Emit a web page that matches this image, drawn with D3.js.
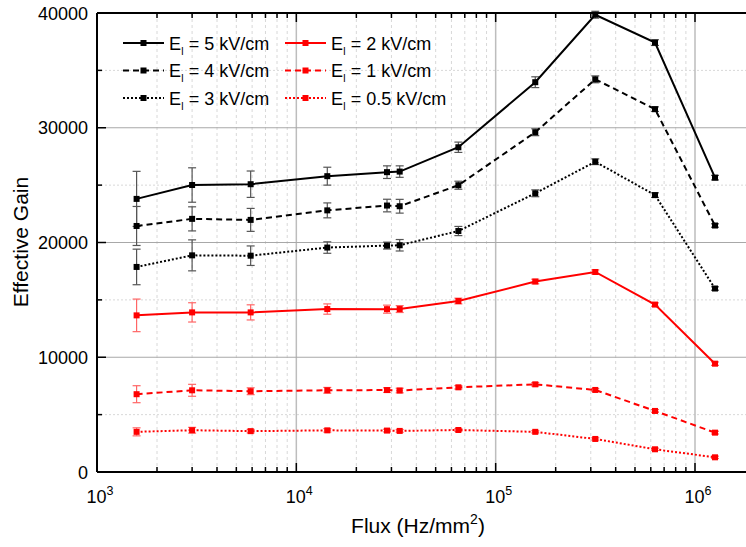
<!DOCTYPE html>
<html>
<head>
<meta charset="utf-8">
<script src="https://cdn.jsdelivr.net/npm/d3@7"></script>
<style>
  body { margin: 0; background: #fff; }
  svg { display: block; font-family: Arial, "Liberation Sans", sans-serif; }
</style>
</head>
<body>
<div id="chart"></div>
<script>
// flux (Hz/mm^2)
const flux = [1.58e3, 3.0e3, 5.9e3, 1.43e4, 2.85e4, 3.3e4, 6.5e4, 1.58e5, 3.16e5, 6.3e5, 1.26e6];

// effective gain per induction field
const gain5 = [23800, 25010, 25080, 25780, 26130, 26180, 28300, 33970, 39850, 37420, 25650];
const err5 = [2400, 1500, 1150, 780, 550, 500, 450, 470, 300, 250, 200];
const gain4 = [21440, 22060, 21970, 22800, 23220, 23160, 24990, 29610, 34220, 31620, 21480];
const err4 = [1700, 1050, 1000, 650, 550, 600, 350, 300, 300, 200, 150];
const gain3 = [17870, 18880, 18850, 19560, 19730, 19760, 21000, 24290, 27040, 24130, 15990];
const err3 = [1550, 1350, 850, 500, 300, 500, 400, 300, 250, 200, 150];
const gain2 = [13650, 13910, 13910, 14200, 14190, 14200, 14900, 16600, 17430, 14590, 9440];
const err2 = [1420, 840, 660, 450, 350, 300, 250, 200, 180, 150, 150];
const gain1 = [6780, 7120, 7040, 7120, 7140, 7100, 7380, 7640, 7150, 5320, 3430];
const err1 = [740, 520, 300, 250, 200, 200, 150, 150, 120, 120, 120];
const gain05 = [3500, 3640, 3560, 3630, 3610, 3580, 3660, 3500, 2880, 1980, 1280];
const err05 = [350, 250, 150, 150, 120, 120, 120, 100, 100, 100, 100];

const fieldLabels = ['5', '4', '3', '2', '1', '0.5'];
const xTickLabels = ['3', '4', '5', '6'];
const yTicks = [0, 10000, 20000, 30000, 40000];

const series = [
  { field: fieldLabels[0], gain: gain5, err: err5, color: '#000', errColor: '#555', dash: null },
  { field: fieldLabels[1], gain: gain4, err: err4, color: '#000', errColor: '#555', dash: '6,4' },
  { field: fieldLabels[2], gain: gain3, err: err3, color: '#000', errColor: '#555', dash: '2,2' },
  { field: fieldLabels[3], gain: gain2, err: err2, color: '#f00', errColor: '#f66', dash: null },
  { field: fieldLabels[4], gain: gain1, err: err1, color: '#f00', errColor: '#f66', dash: '6,4' },
  { field: fieldLabels[5], gain: gain05, err: err05, color: '#f00', errColor: '#f66', dash: '2,2' }
];

const width = 746, height = 547;
const pLeft = 97, pTop = 13, pBottom = 472, pRight = width;

const svg = d3.select('#chart').append('svg')
  .attr('width', width)
  .attr('height', height);

// scales: one decade is about 199px
const x = d3.scaleLog().domain([1e3, 1e6]).range([pLeft, 695]);
const y = d3.scaleLinear().domain([0, 40000]).range([pBottom, pTop]);

// minor grid (dashed)
const minorX = [];
for (let e = 3; e <= 6; e++) {
  for (let m = 2; m <= 9; m++) minorX.push(m * Math.pow(10, e));
}
const minorXin = minorX.filter(d => x(d) < pRight);
const minorY = [5000, 15000, 25000, 35000];

const grid = svg.append('g');
grid.selectAll(null)
  .data(minorXin)
  .join('line')
  .attr('x1', d => x(d)).attr('x2', d => x(d))
  .attr('y1', pTop).attr('y2', pBottom)
  .attr('stroke', '#d8d8d8').attr('stroke-dasharray', '3,3');
grid.selectAll(null)
  .data(minorY)
  .join('line')
  .attr('x1', pLeft).attr('x2', pRight)
  .attr('y1', d => y(d)).attr('y2', d => y(d))
  .attr('stroke', '#d8d8d8').attr('stroke-dasharray', '2,2');

// major grid (solid)
grid.selectAll(null)
  .data([1e4, 1e5, 1e6])
  .join('line')
  .attr('x1', d => x(d)).attr('x2', d => x(d))
  .attr('y1', pTop).attr('y2', pBottom)
  .attr('stroke', '#bdbdbd').attr('stroke-width', 1.5);
grid.selectAll(null)
  .data([10000, 20000, 30000])
  .join('line')
  .attr('x1', pLeft).attr('x2', pRight)
  .attr('y1', d => y(d)).attr('y2', d => y(d))
  .attr('stroke', '#a8a8a8').attr('stroke-width', 1.2);

// data
const plot = svg.append('g');
const line = d3.line()
  .x((d, i) => x(flux[i]))
  .y(d => y(d));

series.forEach(s => {
  const g = plot.append('g');
  // error bars
  const eb = g.selectAll(null)
    .data(s.gain.map((v, i) => ({ f: flux[i], v: v, e: s.err[i] })))
    .join('g');
  eb.append('line')
    .attr('x1', d => x(d.f)).attr('x2', d => x(d.f))
    .attr('y1', d => y(d.v - d.e)).attr('y2', d => y(d.v + d.e))
    .attr('stroke', s.errColor).attr('stroke-width', 1.2);
  [-1, 1].forEach(k => {
    eb.append('line')
      .attr('x1', d => x(d.f) - 4).attr('x2', d => x(d.f) + 4)
      .attr('y1', d => y(d.v + k * d.e)).attr('y2', d => y(d.v + k * d.e))
      .attr('stroke', s.errColor).attr('stroke-width', 1.2);
  });
  // line
  g.append('path')
    .datum(s.gain)
    .attr('d', line)
    .attr('fill', 'none')
    .attr('stroke', s.color)
    .attr('stroke-width', 2)
    .attr('stroke-dasharray', s.dash);
  // square markers
  g.selectAll('rect')
    .data(s.gain)
    .join('rect')
    .attr('x', (d, i) => x(flux[i]) - 3)
    .attr('y', d => y(d) - 3)
    .attr('width', 6).attr('height', 6)
    .attr('fill', s.color);
});

// axes frame
const axes = svg.append('g').attr('stroke', '#000');
axes.append('line').attr('x1', pLeft).attr('x2', pRight).attr('y1', pBottom).attr('y2', pBottom).attr('stroke-width', 2);
axes.append('line').attr('x1', pLeft).attr('x2', pRight).attr('y1', pTop).attr('y2', pTop).attr('stroke-width', 2);
axes.append('line').attr('x1', pLeft).attr('x2', pLeft).attr('y1', pTop).attr('y2', pBottom).attr('stroke-width', 2);

// x ticks (inward, bottom and top)
const xMajor = [1e3, 1e4, 1e5, 1e6];
[[pBottom, -1], [pTop, 1]].forEach(([yy, dir]) => {
  axes.append('g').selectAll('line').data(minorXin).join('line')
    .attr('x1', d => x(d)).attr('x2', d => x(d))
    .attr('y1', yy).attr('y2', yy + dir * 5).attr('stroke-width', 1.5);
  axes.append('g').selectAll('line').data(xMajor).join('line')
    .attr('x1', d => x(d)).attr('x2', d => x(d))
    .attr('y1', yy).attr('y2', yy + dir * 9).attr('stroke-width', 1.5);
});
// y ticks (inward)
axes.append('g').selectAll('line').data(minorY).join('line')
  .attr('x1', pLeft).attr('x2', pLeft + 5)
  .attr('y1', d => y(d)).attr('y2', d => y(d)).attr('stroke-width', 1.5);
axes.append('g').selectAll('line').data(yTicks).join('line')
  .attr('x1', pLeft).attr('x2', pLeft + 9)
  .attr('y1', d => y(d)).attr('y2', d => y(d)).attr('stroke-width', 1.5);

// tick labels
svg.append('g').selectAll('text')
  .data(yTicks)
  .join('text')
  .attr('x', pLeft - 9)
  .attr('y', d => y(d) + 6.5)
  .attr('text-anchor', 'end')
  .attr('font-size', 18)
  .text(d => d);

const xl = svg.append('g').selectAll('text')
  .data(xTickLabels)
  .join('text')
  .attr('x', (d, i) => x(xMajor[i]) + 3)
  .attr('y', 503)
  .attr('text-anchor', 'middle')
  .attr('font-size', 18);
xl.append('tspan').text('10');
xl.append('tspan').attr('dy', -8).attr('font-size', 12.5).text(d => d);

// axis titles
svg.append('text')
  .attr('transform', `translate(28,242) rotate(-90)`)
  .attr('text-anchor', 'middle')
  .attr('font-size', 21)
  .text('Effective Gain');

const xt = svg.append('text')
  .attr('x', 418)
  .attr('y', 533)
  .attr('text-anchor', 'middle')
  .attr('font-size', 21);
xt.append('tspan').text('Flux (Hz/mm');
xt.append('tspan').attr('dy', -9).attr('font-size', 14).text('2');
xt.append('tspan').attr('dy', 9).text(')');

// legend
const legend = svg.append('g');
series.forEach((s, i) => {
  const col = Math.floor(i / 3), row = i % 3;
  const lx = col === 0 ? 123 : 285;
  const ly = 43 + row * 27.5;
  const g = legend.append('g');
  g.append('line')
    .attr('x1', lx).attr('x2', lx + 41)
    .attr('y1', ly).attr('y2', ly)
    .attr('stroke', s.color).attr('stroke-width', 2)
    .attr('stroke-dasharray', s.dash);
  g.append('rect')
    .attr('x', lx + 17.5).attr('y', ly - 3)
    .attr('width', 6).attr('height', 6)
    .attr('fill', s.color);
  const t = g.append('text')
    .attr('x', lx + 46)
    .attr('y', ly + 6.5)
    .attr('font-size', 18);
  t.append('tspan').text('E');
  t.append('tspan').attr('dy', 5).attr('font-size', 10).text('I');
  t.append('tspan').attr('dy', -5).text(` = ${s.field} kV/cm`);
});
</script>
</body>
</html>
